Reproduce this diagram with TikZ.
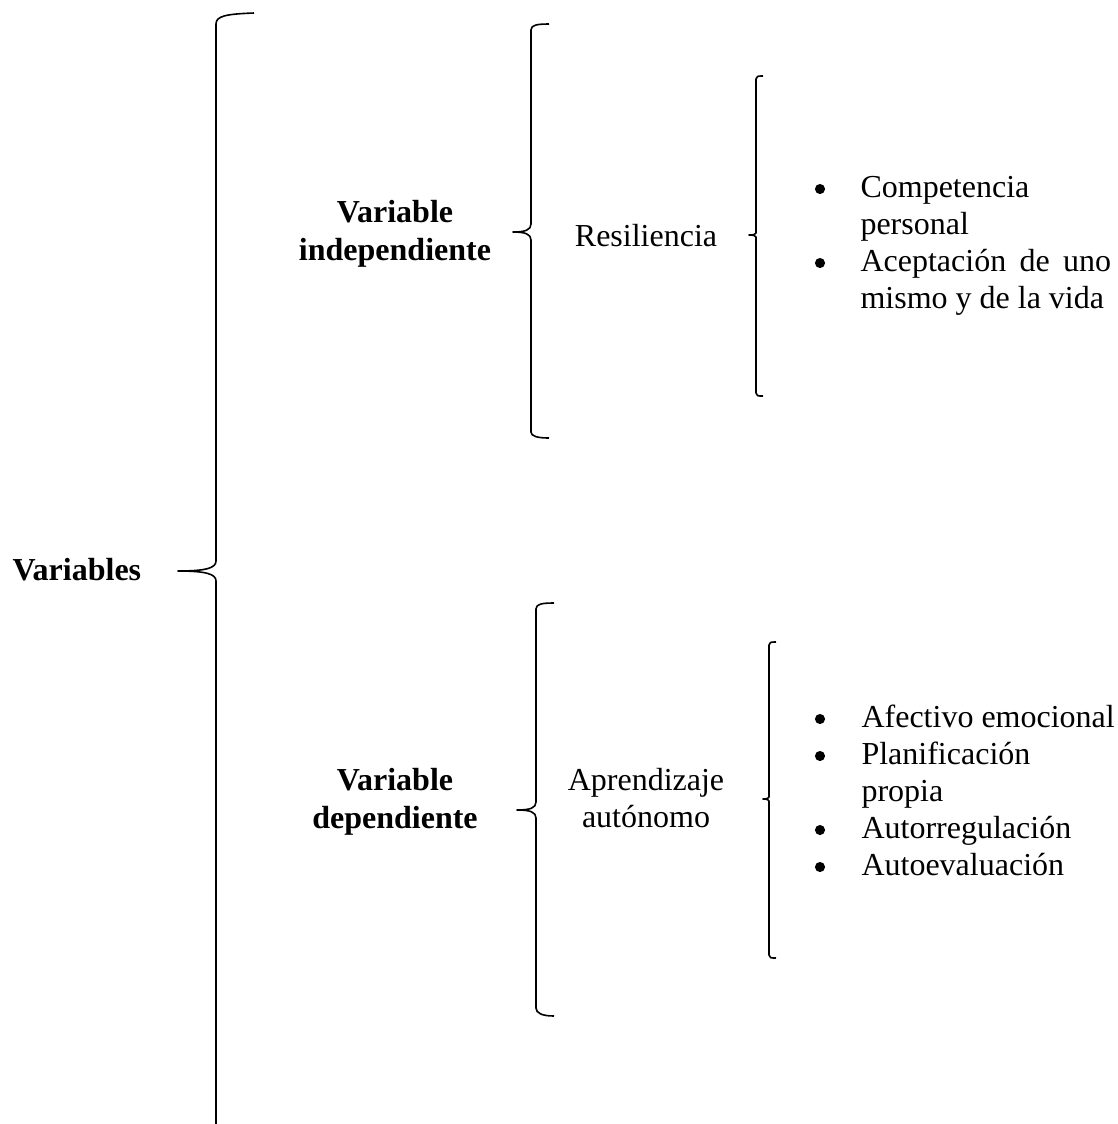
\documentclass[tikz,border=0pt]{standalone}
\usepackage{fontspec}
\setmainfont{Liberation Serif}
\usepackage{tikz}
\hyphenpenalty=10000
\exhyphenpenalty=10000

\tikzset{
  brace/.style={draw=black, line width=0.6pt, line join=round},
  head/.style={font=\fontsize{12}{14.2}\selectfont\bfseries, align=center, inner sep=0pt},
  dim/.style={font=\fontsize{12}{14}\selectfont, align=center, inner sep=0pt},
  itemtext/.style={font=\fontsize{12}{13.9}\selectfont, text width=#1, align=justify, inner sep=0pt, anchor=base west},
  dot/.style={circle, fill=black, inner sep=0pt, minimum size=3.8pt}
}

\begin{document}
\begin{tikzpicture}[x=0.375pt, y=-0.375pt]
		\useasboundingbox (0,0) rectangle (1118,1124);

		% titulos
		\node[head, anchor=west] (vars) at (12,570) {Variables};
		\node[head] (vind) at (395,234) {Variable\\independiente};
		\node[head] (vdep) at (395,802) {Variable\\dependiente};
		\node[dim] (resil) at (646,236) {Resiliencia};
		\node[dim] (aprend) at (646,798) {Aprendizaje\\autónomo};

		% dimensiones de resiliencia
		\node[dot] (bi1) at (820,189) {};
		\node[itemtext=94pt] (i1) at (860,197) {Competencia personal};
		\node[dot] (bi2) at (820,263) {};
		\node[itemtext=94pt] (i2) at (860,271) {Aceptación de uno mismo y de la vida};

		% dimensiones de aprendizaje
		\node[dot] (bd1) at (820,719) {};
		\node[itemtext=95pt] (d1) at (861,727) {Afectivo emocional};
		\node[dot] (bd2) at (820,756) {};
		\node[itemtext=95pt] (d2) at (861,764) {Planificación\\propia};
		\node[dot] (bd3) at (820,830) {};
		\node[itemtext=95pt] (d3) at (861,838) {Autorregulación};
		\node[dot] (bd4) at (820,867) {};
		\node[itemtext=95pt] (d4) at (861,875) {Autoevaluación};

		% llaves
		\draw[brace] (254,13) .. controls (226,14) and (216,16) .. (216,24) -- (216,561)
			.. controls (216,568) and (206,571) .. (178,571)
			.. controls (206,571) and (216,574) .. (216,581) -- (216,1126);
		\draw[brace] (549,24) .. controls (537,24) and (531,25) .. (531,30) -- (531,224)
			.. controls (531,230) and (525,232) .. (513,232)
			.. controls (525,232) and (531,234) .. (531,240) -- (531,432)
			.. controls (531,436) and (537,438) .. (549,438);
		\draw[brace] (763,76) .. controls (758,76) and (756,76) .. (756,79) -- (756,233)
			.. controls (756,234) and (754,235) .. (749,235)
			.. controls (754,235) and (756,236) .. (756,237) -- (756,393)
			.. controls (756,396) and (758,396) .. (763,396);
		\draw[brace] (554,603) .. controls (542,603) and (536,604) .. (536,609) -- (536,802)
			.. controls (536,808) and (530,810) .. (517,810)
			.. controls (530,810) and (536,812) .. (536,818) -- (536,1008)
			.. controls (536,1013) and (542,1016) .. (554,1016);
		\draw[brace] (776,642) .. controls (771,642) and (769,642) .. (769,645) -- (769,797)
			.. controls (769,798) and (767,799) .. (763,799)
			.. controls (767,799) and (769,800) .. (769,801) -- (769,955)
			.. controls (769,958) and (771,958) .. (776,958);
\end{tikzpicture}
\end{document}
